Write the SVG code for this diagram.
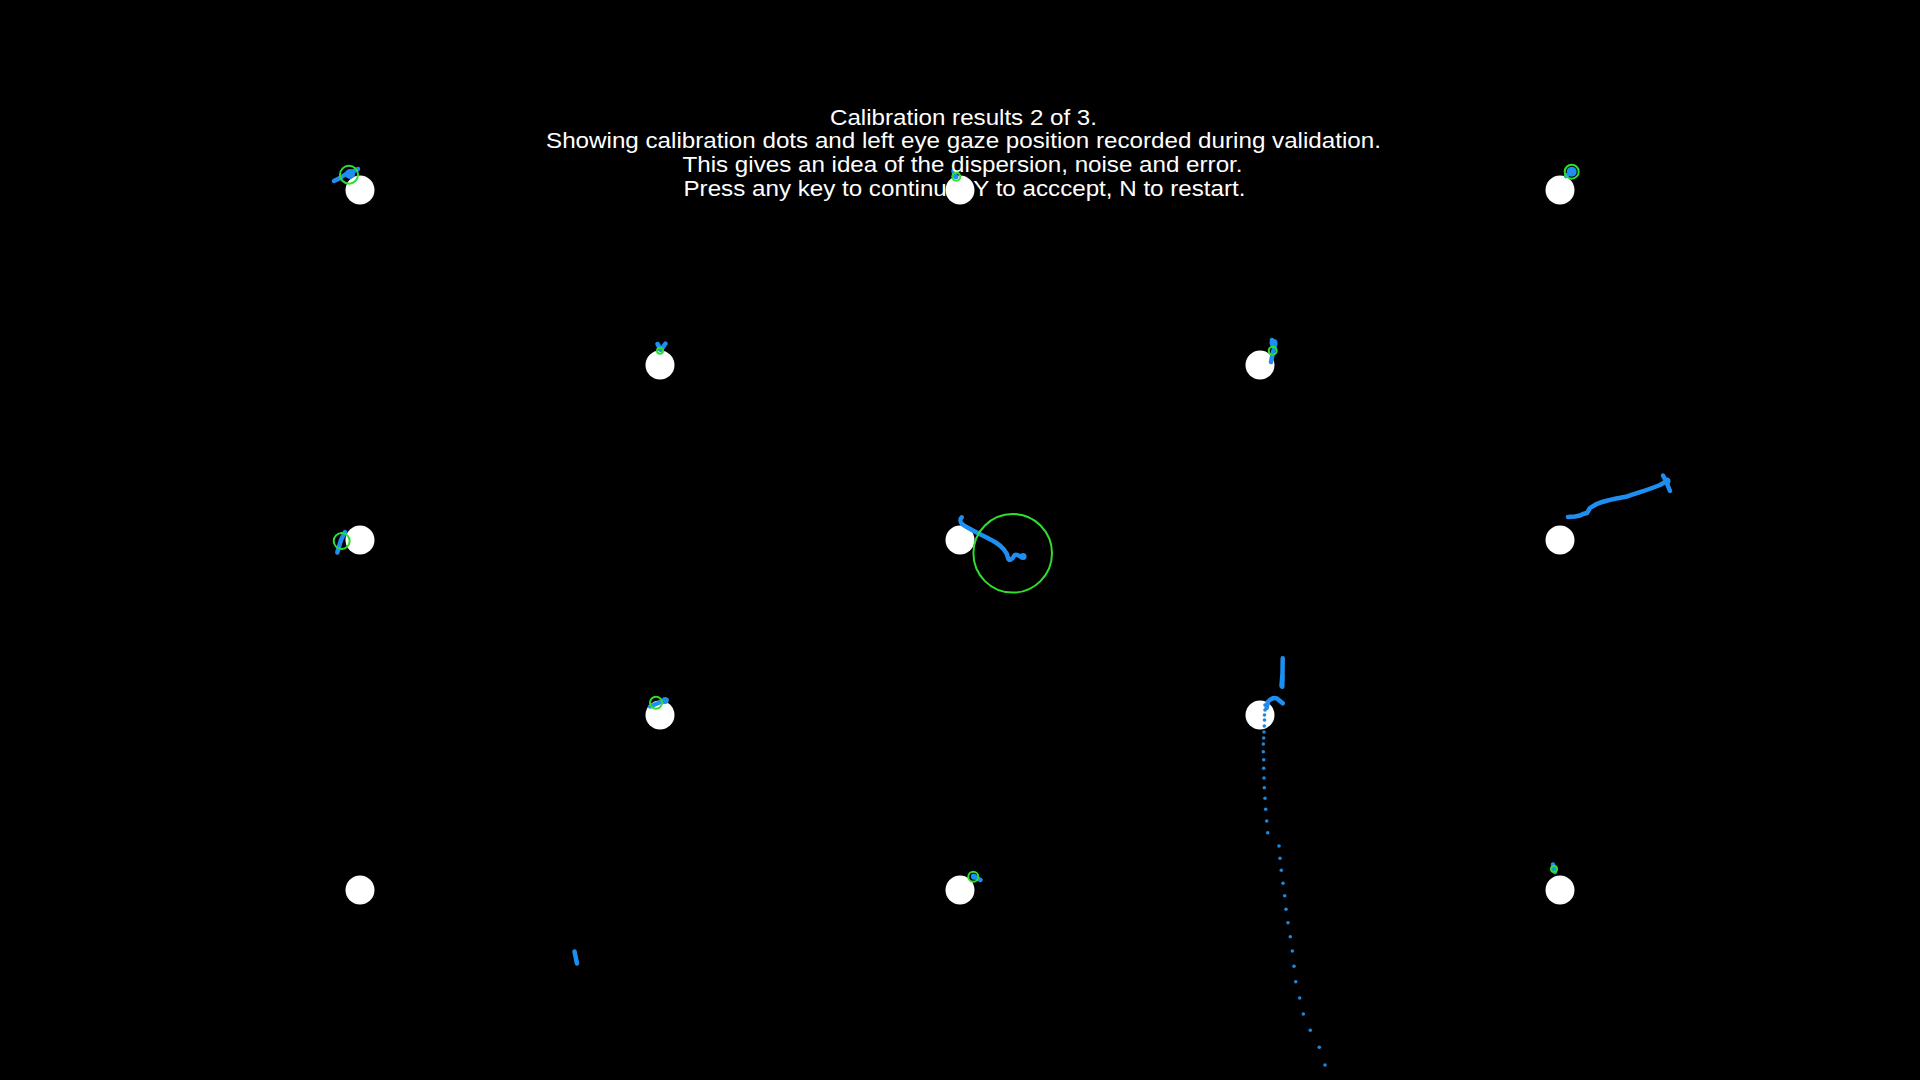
<svg xmlns="http://www.w3.org/2000/svg" width="1920" height="1080" viewBox="0 0 1920 1080">
<style>
.dot{fill:#ffffff}
.ring{fill:none;stroke:#2ee02e;stroke-width:2}
.gz{fill:none;stroke:#1e8ff0;stroke-width:4.5;stroke-linecap:round;stroke-linejoin:round}
.gzf{fill:#1e8ff0}
.smp{fill:#1f86d8}
.t{font-family:"Liberation Sans",Arial,sans-serif;font-size:21.5px;fill:#ffffff;text-anchor:middle}
</style>
<rect x="0" y="0" width="1920" height="1080" fill="#000000"/>

<g id="p1">
<circle class="dot" cx="360" cy="190" r="14.5"/>
<path class="gz" d="M334,181 L340,178 L346,174 L352,172 L358,169"/>
<circle class="gzf" cx="350" cy="174" r="5"/>
<circle class="ring" cx="349" cy="174.7" r="9"/>
</g>

<g id="p2">
<circle class="dot" cx="960" cy="190" r="14.5"/>
<path class="gz" d="M953.5,171 L955,176" stroke-width="4"/>
<circle class="gzf" cx="956" cy="176.7" r="2.5"/>
<circle class="ring" cx="956.3" cy="176.7" r="4"/>
</g>

<g id="p3">
<circle class="dot" cx="1560" cy="190" r="14.5"/>
<path class="gz" d="M1566,176 L1570,173" stroke-width="3"/>
<circle class="gzf" cx="1571.7" cy="171.7" r="5"/>
<circle class="ring" cx="1571.7" cy="171.7" r="7"/>
</g>

<g id="p4">
<circle class="dot" cx="660" cy="365" r="14.5"/>
<path class="gz" d="M657.5,344 L661,350 M665.5,343.5 L661,350" stroke-width="3.5"/>
<circle class="ring" cx="660" cy="350.7" r="3"/>
</g>

<g id="p5">
<circle class="dot" cx="1260" cy="365" r="14.5"/>
<path class="gz" d="M1272,340 L1275,345 L1273,352 L1271,362" stroke-width="5.5"/>
<circle class="gzf" cx="1273.5" cy="343" r="4"/>
<circle class="ring" cx="1272.7" cy="350.7" r="4"/>
</g>

<g id="p6">
<circle class="dot" cx="360" cy="540" r="14.5"/>
<path class="gz" d="M345,532 L341,540 L337.3,552.5" stroke-width="5"/>
<circle class="ring" cx="341.7" cy="541" r="8"/>
</g>

<g id="p7">
<circle class="dot" cx="960" cy="540" r="14.5"/>
<path class="gz" d="M961.7,517.3 C960,519 960,522 962,524 C968,529 985,536 995,542 C1003,547 1007,552 1008,558 C1009,561 1012,560 1014,556 C1016,553 1019,556 1021,557 L1024,556.5"/>
<circle class="gzf" cx="1023" cy="556.5" r="3.5"/>
<circle class="ring" cx="1012.7" cy="553.3" r="39.3"/>
</g>

<g id="p8">
<circle class="dot" cx="1560" cy="540" r="14.5"/>
<path class="gz" d="M1568,517 L1575,516.5 L1580,515.5 L1583,514 L1587,513 L1590,508 C1594,505 1598,503 1602,502 C1612,499 1620,498 1627,496.5 C1640,492 1650,489 1660,485 L1667,481"/>
<path class="gz" d="M1663,475.5 L1666,481 L1670,491" stroke-width="3.5"/>
<circle class="gzf" cx="1667" cy="481" r="3.5"/>
</g>

<g id="p9">
<circle class="dot" cx="660" cy="715" r="14.5"/>
<path class="gz" d="M650,706.5 L656,704 L662,701.5 L666.7,700" stroke-width="5"/>
<circle class="gzf" cx="665" cy="700.5" r="3.5"/>
<circle class="ring" cx="656" cy="702.7" r="6"/>
</g>

<g id="p10">
<circle class="dot" cx="1260" cy="715" r="14.5"/>
<path class="gz" d="M1282.7,658.3 L1282.3,686.7" stroke-width="4"/>
<path class="gz" d="M1282.3,676 L1281.5,686" stroke-width="7"/>
<path class="gz" d="M1266.7,708 L1268,701.7 Q1272,697 1276.7,698.3 L1282.7,703.3" stroke-width="4.5"/>
<g id="samples">
<circle class="smp" cx="1265" cy="705" r="1.8"/>
<circle class="smp" cx="1265" cy="710" r="1.8"/>
<circle class="smp" cx="1264.5" cy="715" r="1.8"/>
<circle class="smp" cx="1264.5" cy="720" r="1.8"/>
<circle class="smp" cx="1264.3" cy="726" r="1.8"/>
<circle class="smp" cx="1264" cy="732" r="1.8"/>
<circle class="smp" cx="1263.7" cy="738" r="1.8"/>
<circle class="smp" cx="1263.3" cy="744" r="1.8"/>
<circle class="smp" cx="1263.3" cy="751.7" r="1.8"/>
<circle class="smp" cx="1263.7" cy="759.7" r="1.8"/>
<circle class="smp" cx="1263.7" cy="768.3" r="1.8"/>
<circle class="smp" cx="1264" cy="778" r="1.8"/>
<circle class="smp" cx="1264.3" cy="787.7" r="1.8"/>
<circle class="smp" cx="1265" cy="798.3" r="1.8"/>
<circle class="smp" cx="1265.7" cy="809.3" r="1.8"/>
<circle class="smp" cx="1266.7" cy="821" r="1.8"/>
<circle class="smp" cx="1267.7" cy="832.7" r="1.8"/>
<circle class="smp" cx="1279" cy="846" r="1.8"/>
<circle class="smp" cx="1280" cy="858.3" r="1.8"/>
<circle class="smp" cx="1281.3" cy="870.3" r="1.8"/>
<circle class="smp" cx="1283" cy="883.3" r="1.8"/>
<circle class="smp" cx="1284.7" cy="895.7" r="1.8"/>
<circle class="smp" cx="1286" cy="909.3" r="1.8"/>
<circle class="smp" cx="1288" cy="922.7" r="1.8"/>
<circle class="smp" cx="1290.3" cy="936.7" r="1.8"/>
<circle class="smp" cx="1292.3" cy="951" r="1.8"/>
<circle class="smp" cx="1294" cy="966.3" r="1.8"/>
<circle class="smp" cx="1295.7" cy="981.7" r="1.8"/>
<circle class="smp" cx="1299.7" cy="998" r="1.8"/>
<circle class="smp" cx="1303.3" cy="1014" r="1.8"/>
<circle class="smp" cx="1310.3" cy="1030.3" r="1.8"/>
<circle class="smp" cx="1319.3" cy="1047.3" r="1.8"/>
<circle class="smp" cx="1325" cy="1065" r="1.8"/>
</g>
</g>

<g id="p11">
<circle class="dot" cx="360" cy="890" r="14.5"/>
<path class="gz" d="M574.5,951.5 L577,963.5" stroke-width="3.5"/>
</g>

<g id="p12">
<circle class="dot" cx="960" cy="890" r="14.5"/>
<path class="gz" d="M973,876 L980.5,880" stroke-width="4"/>
<circle class="gzf" cx="974" cy="876.7" r="3"/>
<circle class="ring" cx="973.3" cy="876.7" r="5"/>
</g>

<g id="p13">
<circle class="dot" cx="1560" cy="890" r="14.5"/>
<path class="gz" d="M1553,864.5 L1555,872" stroke-width="4"/>
<circle class="ring" cx="1554" cy="869" r="3"/>
</g>

<g id="instructions">
<text class="t" x="963.5" y="124.5" textLength="267" lengthAdjust="spacingAndGlyphs">Calibration results 2 of 3.</text>
<text class="t" x="963.5" y="148" textLength="835" lengthAdjust="spacingAndGlyphs">Showing calibration dots and left eye gaze position recorded during validation.</text>
<text class="t" x="962.5" y="171.5" textLength="560" lengthAdjust="spacingAndGlyphs">This gives an idea of the dispersion, noise and error.</text>
<text class="t" x="964.5" y="195.5" textLength="562" lengthAdjust="spacingAndGlyphs">Press any key to continue, Y to acccept, N to restart.</text>
</g>
</svg>
